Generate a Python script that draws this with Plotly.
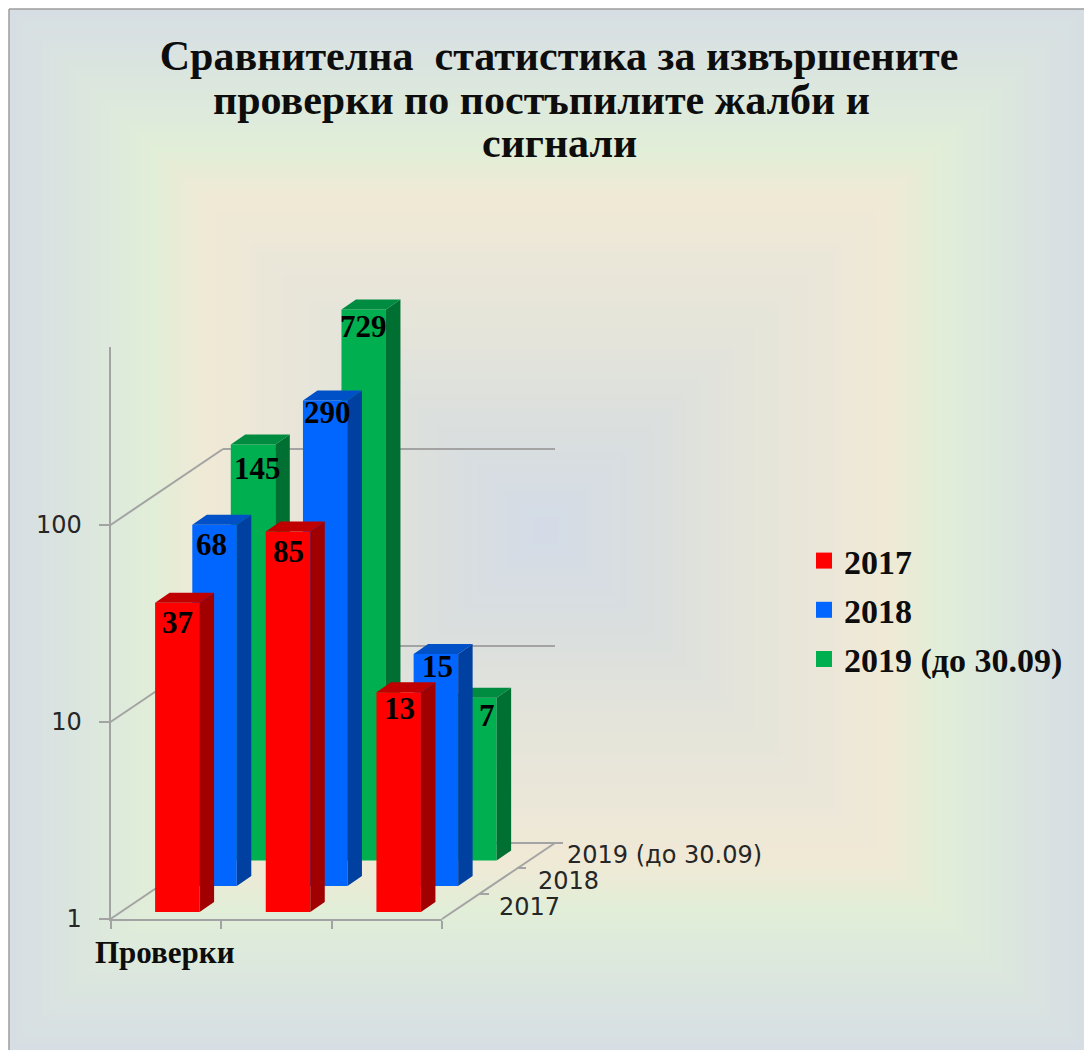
import math
import plotly.graph_objects as go

W, H = 1084, 1050

# ---- data ----
title_lines = ["Сравнителна  статистика за извършените", "проверки по постъпилите жалби и", "сигнали"]
group_label = "Проверки"
series_names = ["2017", "2018", "2019 (до 30.09)"]
values_2017 = [37, 85, 13]
values_2018 = [68, 290, 15]
values_2019 = [145, 729, 7]
y_ticks = [1, 10, 100]

# ---- styles / geometry (pixels of the page) ----
front = {"2017": "#FF0000", "2018": "#0066FF", "2019": "#00B050"}
side = {"2017": "#A00000", "2018": "#0040A0", "2019": "#006F32"}
top = {"2017": "#C00000", "2018": "#0050C8", "2019": "#008C40"}
GRID = "#A3A3A3"
SERIF = "Liberation Serif"
SANS = "DejaVu Sans"

def px(x): return x / W
def py(y): return 1 - y / H

CAT = 110.67
BAR = 44.5
DEPTH_X = 14.5
DEPTH_Y = 10.0
# key, left of the axis, baseline, pixels per decade
planes = [
    ("2019", 197.7, 860.5, 192.5, values_2019, "x2", "y2"),
    ("2018", 159.2, 886.0, 197.2, values_2018, "x3", "y3"),
    ("2017", 122.0, 912.0, 197.2, values_2017, "x4", "y4"),
]
label_dx = {"2017": [0, 0, 1], "2018": [-3, 2, 2], "2019": [4, 0, 13]}
label_dy = {"2017": [20, 20, 16], "2018": [20, 12, 12], "2019": [24, 17, 18]}

fig = go.Figure()
layout_axes = {}
annotations = []

# frame axes: the front plane with the value ticks
FX0, FX1, FY0, FY1, FDEC = 110.5, 442, 919, 347, 197
fig.add_trace(go.Scatter(x=[None], y=[None], xaxis="x", yaxis="y", showlegend=False, hoverinfo="skip"))
layout_axes["xaxis"] = dict(domain=[px(FX0), px(FX1)], range=[0, 3], tickvals=[0, 1, 2, 3],
                            ticks="outside", ticklen=8, tickwidth=2, tickcolor=GRID,
                            showticklabels=False, showgrid=False, zeroline=False,
                            showline=True, linecolor=GRID, linewidth=2, anchor="y")
layout_axes["yaxis"] = dict(domain=[py(FY0), py(FY1)], type="log", range=[0, (FY0 - FY1) / FDEC],
                            tickmode="array", tickvals=y_ticks, ticktext=[str(v) for v in y_ticks],
                            ticks="outside", ticklen=10, tickwidth=2, tickcolor=GRID,
                            ticklabelstandoff=12, tickfont=dict(family=SANS, size=24, color="#262626"),
                            showgrid=False, zeroline=False, showline=True, linecolor=GRID, linewidth=2,
                            anchor="x")

for key, x0, base, dec, vals, xa, ya in planes:
    cx = [i + 0.5 for i in range(len(vals))]
    w = BAR / CAT
    d = DEPTH_X / CAT
    k = 10 ** (DEPTH_Y / dec)
    fig.add_trace(go.Bar(x=cx, y=vals, width=w, marker=dict(color=front[key], line=dict(width=0)),
                         xaxis=xa, yaxis=ya, showlegend=False, hoverinfo="skip"))
    sx, sy, tx, ty = [], [], [], []
    for c, v in zip(cx, vals):
        l, r = c - w / 2, c + w / 2
        sx += [r, r + d, r + d, r, None]
        sy += [1, k, v * k, v, None]
        tx += [l, l + d, r + d, r, None]
        ty += [v, v * k, v * k, v, None]
    for xs, ys, col in ((sx, sy, side[key]), (tx, ty, top[key])):
        fig.add_trace(go.Scatter(x=xs, y=ys, mode="lines", fill="toself", fillcolor=col,
                                 line=dict(width=0, color=col), xaxis=xa, yaxis=ya,
                                 showlegend=False, hoverinfo="skip"))
    layout_axes["xaxis" + xa[1:]] = dict(domain=[px(x0), px(x0 + 3 * CAT)], range=[0, 3], visible=False, anchor=ya)
    layout_axes["yaxis" + ya[1:]] = dict(domain=[py(base), py(base - 3 * dec)], type="log", range=[0, 3],
                                         visible=False, anchor=xa)
    for c, v, ldx, ldy in zip(cx, vals, label_dx[key], label_dy[key]):
        annotations.append(dict(x=c, y=math.log10(v), xref=xa, yref=ya, text="<b>%d</b>" % v, showarrow=False,
                                xshift=ldx, yshift=-ldy, font=dict(family=SERIF, size=31, color="black"),
                                xanchor="center", yanchor="middle"))

# legend entries
for name, key in zip(series_names, ["2017", "2018", "2019"]):
    fig.add_trace(go.Scatter(x=[None], y=[None], mode="markers", name="<b>%s</b>" % name, legendgroup=key,
                             marker=dict(symbol="square", size=16, color=front[key]),
                             xaxis="x", yaxis="y"))

# ---- background: nested rectangles forming a path gradient ----
stops = [(0.0, (214, 222, 228)), (0.26, (225, 238, 216)), (0.36, (240, 233, 214)),
         (0.63, (228, 228, 219)), (0.78, (219, 223, 221)), (1.0, (211, 219, 231))]
def colour(t):
    for (t0, c0), (t1, c1) in zip(stops, stops[1:]):
        if t <= t1:
            f = (t - t0) / (t1 - t0)
            return "rgb(%d,%d,%d)" % tuple(round(a + (b - a) * f) for a, b in zip(c0, c1))
    return "rgb(%d,%d,%d)" % stops[-1][1]

shapes = []
L0, T0, CX, CY = 9, 9, 545, 530
N = 80
for i in range(N):
    t = i / N
    shapes.append(dict(type="rect", xref="paper", yref="paper", layer="below",
                       x0=px(L0 + t * (CX - L0)), x1=px(W - t * (W - CX)),
                       y0=py(T0 + t * (CY - T0)), y1=py(H - t * (H - CY)),
                       fillcolor=colour(t), line=dict(width=0)))

def seg(points, color=GRID, width=2):
    for (a, b), (c, e) in zip(points, points[1:]):
        shapes.append(dict(type="line", xref="paper", yref="paper", layer="below",
                           x0=px(a), y0=py(b), x1=px(c), y1=py(e), line=dict(color=color, width=width)))

seg([(9, 1050), (9, 9), (1084, 9)], "#9C9C9C", 1.5)
seg([(110.5, 525), (223, 449), (555, 449)])
seg([(110.5, 722), (223, 646), (555, 646)])
seg([(110.5, 919), (223, 843), (563, 843)])
seg([(442, 919), (555, 843)])
seg([(480, 894), (489, 894)])
seg([(517, 868), (526, 868)])

def note(x, y, text, fam, size, color="#262626", anchor="left"):
    annotations.append(dict(x=px(x), y=py(y), xref="paper", yref="paper", text=text, showarrow=False,
                            xanchor=anchor, yanchor="middle", font=dict(family=fam, size=size, color=color)))

note(541, 100, "<b>%s</b>" % title_lines[1], SERIF, 42, "#0d0d0d", "center")
note(559, 143, "<b>%s</b>" % title_lines[2], SERIF, 42, "#0d0d0d", "center")
note(165, 952, "<b>%s</b>" % group_label, SERIF, 31, "#0d0d0d", "center")
note(497, 907, "2017", SANS, 24)
note(536, 881, "2018", SANS, 24)
note(565, 855, series_names[2], SANS, 24)

fig.update_layout(
    width=W, height=H, margin=dict(l=0, r=0, t=0, b=0, autoexpand=False),
    paper_bgcolor="white", plot_bgcolor="rgba(0,0,0,0)",
    barmode="overlay", shapes=shapes, annotations=annotations,
    title=dict(text="<b>%s</b>" % title_lines[0], x=559 / W, xanchor="center", y=py(55), yanchor="middle",
               font=dict(family=SERIF, size=42, color="#0d0d0d")),
    legend=dict(x=px(804), xanchor="left", y=py(532), yanchor="top", bgcolor="rgba(0,0,0,0)",
                tracegroupgap=2, itemsizing="trace",
                font=dict(family=SERIF, size=34, color="#0d0d0d")),
    **layout_axes,
)

fig.write_html("out.html", config={"displayModeBar": False},
               post_script="document.body.style.margin='0';document.body.style.overflow='hidden';")
